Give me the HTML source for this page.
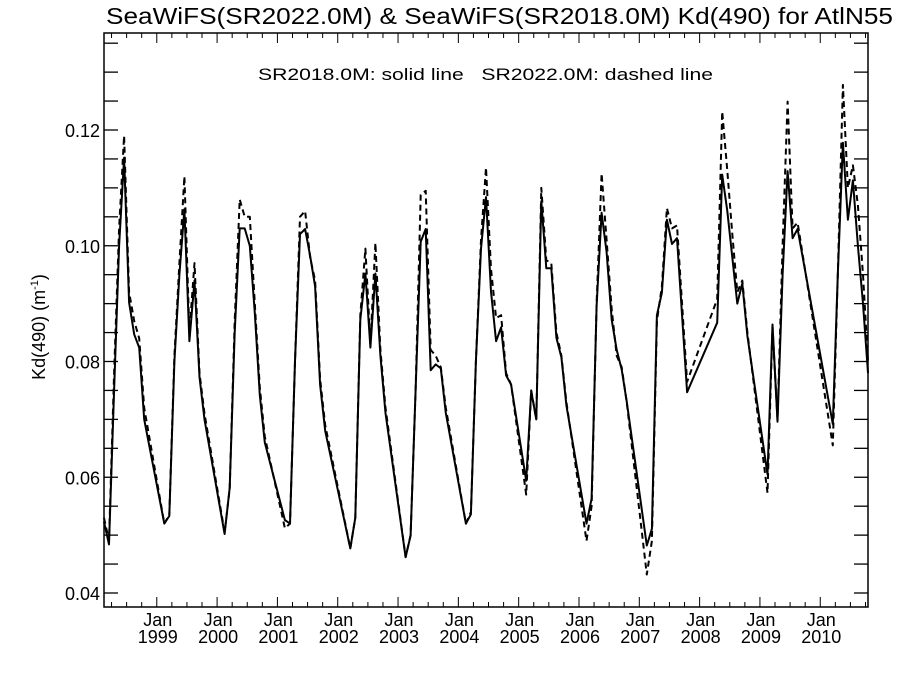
<!DOCTYPE html>
<html><head><meta charset="utf-8"><style>
body{margin:0;background:#fff;}
svg{display:block;font-family:"Liberation Sans",sans-serif;}
</style></head><body>
<svg id="chart" width="900" height="675" viewBox="0 0 900 675" xmlns="http://www.w3.org/2000/svg">
<rect width="900" height="675" fill="#fff"/>
<text x="106" y="24" font-size="23" textLength="787" lengthAdjust="spacingAndGlyphs">SeaWiFS(SR2022.0M) &amp; SeaWiFS(SR2018.0M)  Kd(490) for AtlN55</text>
<text x="258" y="80" font-size="17" textLength="455" lengthAdjust="spacingAndGlyphs" xml:space="preserve">SR2018.0M: solid line   SR2022.0M: dashed line</text>
<text transform="translate(45,327) rotate(-90)" font-size="18" text-anchor="middle">Kd(490) (m<tspan font-size="11" dy="-7">-1</tspan><tspan dy="7">)</tspan></text>
<g id="axes"></g>
<g id="series"></g>
</svg>
<script>
const months = ["1998-02","1998-03","1998-04","1998-05","1998-06","1998-07","1998-08","1998-09","1998-10",
"1999-02","1999-03","1999-04","1999-05","1999-06","1999-07","1999-08","1999-09","1999-10",
"2000-02","2000-03","2000-04","2000-05","2000-06","2000-07","2000-08","2000-09","2000-10",
"2001-02","2001-03","2001-04","2001-05","2001-06","2001-07","2001-08","2001-09","2001-10",
"2002-03","2002-04","2002-05","2002-06","2002-07","2002-08","2002-09","2002-10",
"2003-02","2003-03","2003-04","2003-05","2003-06","2003-07","2003-08","2003-09","2003-10",
"2004-02","2004-03","2004-04","2004-05","2004-06","2004-07","2004-08","2004-09","2004-10","2004-11",
"2005-02","2005-03","2005-04","2005-05","2005-06","2005-07","2005-08","2005-09","2005-10",
"2006-02","2006-03","2006-04","2006-05","2006-06","2006-07","2006-08","2006-09","2006-10",
"2007-02","2007-03","2007-04","2007-05","2007-06","2007-07","2007-08","2007-10",
"2008-04","2008-05","2008-06","2008-07","2008-08","2008-09","2008-10",
"2009-02","2009-03","2009-04","2009-05","2009-06","2009-07","2009-08",
"2010-03","2010-04","2010-05","2010-06","2010-07","2010-08","2010-09","2010-10"];
const solidValues = [.0523,.0484,.075,.100,.1152,.0902,.0847,.0824,.070,
.052,.0533,.080,.095,.1063,.0835,.094,.0773,.070,
.0502,.0582,.085,.103,.103,.100,.0884,.0742,.066,
.0526,.052,.080,.102,.1029,.0983,.093,.076,.068,
.0477,.053,.0872,.0952,.0824,.0952,.081,.0711,
.0462,.0499,.075,.1007,.1029,.0785,.0795,.0788,.0711,
.052,.0536,.080,.0995,.1084,.0921,.0835,.0859,.0776,.076,
.0594,.0749,.070,.1077,.0961,.0961,.0841,.0807,.0724,
.052,.0563,.0896,.1057,.0989,.0872,.082,.0786,.0731,
.0482,.0511,.088,.0919,.1045,.1003,.1013,.0747,
.0867,.1123,.106,.098,.090,.0935,.0844,
.0605,.0864,.0696,.095,.1129,.1013,.1029,
.0692,.095,.1178,.1045,.1113,.100,.090,.078];
const dashedValues = [.0530,.0490,.078,.103,.119,.092,.087,.084,.072,
.052,.0535,.081,.097,.112,.085,.097,.078,.071,
.0505,.058,.087,.108,.105,.105,.090,.0755,.067,
.0512,.052,.080,.105,.106,.098,.094,.077,.069,
.0477,.053,.088,.0995,.083,.1005,.082,.072,
.0462,.050,.075,.1088,.1095,.082,.081,.079,.072,
.052,.054,.080,.101,.1135,.096,.0875,.088,.078,.076,
.057,.075,.070,.110,.0975,.097,.085,.081,.073,
.049,.055,.090,.1125,.101,.089,.081,.079,.073,
.0432,.049,.087,.093,.1065,.103,.1035,.0765,
.0908,.1232,.113,.102,.092,.094,.085,
.0573,.086,.070,.100,.1249,.103,.104,
.0655,.095,.1278,.110,.1139,.107,.095,.080];
const yTickLabels = ["0.04","0.06","0.08","0.10","0.12"];
const yearLabels = ["1999","2000","2001","2002","2003","2004","2005","2006","2007","2008","2009","2010"];

const L=104,R=868,T=33,B=607;
const M0=1.5, M1=153.5;
function xScale(m){return L+(m-M0)/(M1-M0)*(R-L);}
function yScale(v){return 593-(v-0.04)*5787.5;}
function monthIdx(s){const [y,m]=s.split("-").map(Number);return (y-1998)*12+(m-1)+0.5;}
const NS="http://www.w3.org/2000/svg";
const axes=document.getElementById("axes");
function el(tag,attrs,parent){const e=document.createElementNS(NS,tag);for(const k in attrs)e.setAttribute(k,attrs[k]);parent.appendChild(e);return e;}

const frame=el("rect",{x:L,y:T,width:R-L,height:B-T,fill:"none",stroke:"#000","stroke-width":1.5},axes);



for(let i=0;i<=20;i++){
  const v=0.035+i*0.005; const y=yScale(v);
  if(y<T-0.5||y>B+0.5)continue;
  const t1=el("line",{x1:L,x2:L+14,y1:y,y2:y,stroke:"#000","stroke-width":1.3},axes);
  
  
  const t2=el("line",{x1:R,x2:R-14,y1:y,y2:y,stroke:"#000","stroke-width":1.3},axes);
  
  
}
yTickLabels.forEach(s=>{
  const t=el("text",{x:L-4,y:yScale(parseFloat(s))+7,"font-size":18,"text-anchor":"end"},axes);
  t.textContent=s;
  
  
});
for(let m=0;m<=156;m+=3){
  const x=xScale(m); if(x<L-0.5||x>R+0.5)continue;
  const len=(m%12===0)?10:5;
  const a=el("line",{x1:x,x2:x,y1:B,y2:B-len,stroke:"#000","stroke-width":1},axes);
  
  
  const b=el("line",{x1:x,x2:x,y1:T,y2:T+len,stroke:"#000","stroke-width":1},axes);
  
  
}
yearLabels.forEach(yr=>{
  const x=xScale((+yr-1998)*12)+1;
  const j=el("text",{x:x,y:626,"font-size":18,"text-anchor":"middle"},axes);
  j.textContent="Jan";
  
  
  const y=el("text",{x:x,y:643,"font-size":18,"text-anchor":"middle"},axes);
  y.textContent=yr;
  
  
});
const series=document.getElementById("series");
function drawLine(vals,dash,name){
  const pts=months.map((s,i)=>xScale(monthIdx(s)).toFixed(1)+","+yScale(vals[i]).toFixed(1)).join(" ");
  const p=el("polyline",{points:pts,fill:"none",stroke:"#000","stroke-width":2,"stroke-linejoin":"round"},series);
  if(dash)p.setAttribute("stroke-dasharray","6,4");
  
  
}
drawLine(dashedValues,true,'series-sr2022-dashed');
drawLine(solidValues,false,'series-sr2018-solid');
</script>
</body></html>
